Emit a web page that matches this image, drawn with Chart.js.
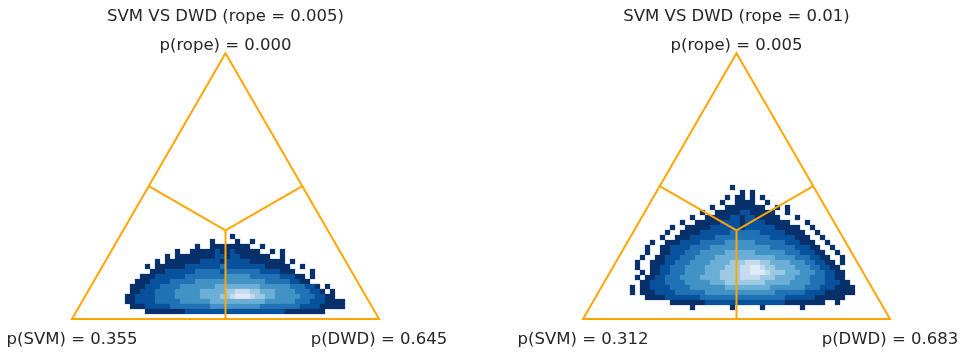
<!DOCTYPE html>
<html lang="en">

<head>
  <meta charset="UTF-8">
  <meta name="viewport" content="width=device-width, initial-scale=1.0">
  <script src="https://cdn.jsdelivr.net/npm/chart.js@4.4.1/dist/chart.umd.min.js"></script>
  <title>SVM vs DWD</title>
  <style>
    body { margin: 0; background: #fff; }
    .row { display: flex; width: 967px; height: 352px; }
    canvas { display: block; }
  </style>
</head>

<body>
  <div class="row">
    <canvas id="left" width="483" height="352"></canvas>
    <canvas id="right" width="484" height="352"></canvas>
  </div>
  <script>
    const titles = ['SVM VS DWD (rope = 0.005)', 'SVM VS DWD (rope = 0.01)']
    const pSvm = [0.355, 0.312]
    const pRope = [0.000, 0.005]
    const pDwd = [0.645, 0.683]

    // hexbin density, one string per row from the top:
    // "firstCell|level*count ..." where level 1 = sparse (dark) ... 8 = densest (light), 0 = empty
    const cloudRope005 = [
      '21|1',
      '17|1 0*4 1 0*2 1',
      '14|1 0*2 1*8 0*2 1',
      '10|1 0*2 1*5 2 1*2 2 1*5 0*2 1 0 1',
      '8|1 0 1*8 2*2 1 2*2 1*6 0*2 1',
      '6|1 0 1*7 2*4 1 2*5 1*7 0 1',
      '4|1 0 1 1*5 2*7 3 2*8 1*5 0*2 1',
      '5|1*3 2*6 3*5 2 3*7 2*4 1*3 0*3 1',
      '3|1*3 2*6 3*8 4*5 3*6 2*3 1*2 0 1',
      '2|1*3 2*4 3*5 4*14 3*5 2*2 1*2',
      '1|1*3 2*3 3*4 4*7 5*9 4*6 3*3 2*2 1 0 1',
      '1|1*2 2*3 3*4 4*5 5*5 6*2 7*3 6*2 5*3 4*4 3*3 2*2 1 0 1',
      '0|1*2 2*4 3*4 4*5 5*4 6*2 7 8*3 7 6*2 5*2 4*5 3*3 2*2 1*2',
      '0|1*2 2*4 3*5 4*6 5*11 4*6 3*3 2*3 1*4',
      '1|1*3 2*5 3*8 4*10 3*8 2*4 1*5',
      '4|1*8 2*20 1*8'
    ]
    const cloudRope01 = [
      '20|1',
      '22|1 0 1',
      '19|1 0 1*2 0 1 0 1',
      '18|1 0*2 1*4 0*2 1',
      '16|1 0*2 1*8 0*2 1 0 1',
      '14|1 0*2 1*5 2*2 1*5 0*2 1',
      '12|1 0*2 1*5 2*2 1 2*2 1*5 0*3 1',
      '10|1 0*2 1*5 2*4 1 2*4 1*5 0*3 1',
      '8|1 0*2 1*5 2*6 1 2*6 1*5 0*2 1',
      '7|1 0*2 1*4 2*6 3*6 2*5 1*4 0*2 1',
      '6|1 0*2 1*3 2*5 3*11 2*5 1*3 0*2 1',
      '4|1 0*2 1*3 2*4 3*5 4*6 3*6 2*3 1*3 0*2 1',
      '3|1 0*2 1*2 2*4 3*4 4*12 3*5 2*3 1*2 0*2 1',
      '3|1 0*2 1*2 2*3 3*3 4*5 5*6 4*6 3*3 2*3 1*2 0*2 1',
      '2|1 0*2 1*2 2*3 3*3 4*4 5*12 4*4 3*3 2*2 1*2 0*2 1',
      '1|1 0*2 1 1*2 2*2 3*3 4*4 5*4 6*3 7*3 6*2 5*4 4*3 3*2 2*2 1*2 0 1',
      '1|1 0*2 1*2 2*2 3*3 4*4 5*4 6*3 7*2 8*2 7 6*2 5*4 4*3 3*2 2*2 1*2',
      '2|1 0 1*2 2*2 3*3 4*4 5*3 6*4 7*2 8*3 7 6*3 5*3 4*3 3*2 2*2 1*2',
      '1|1 0 1*2 2*2 3*3 4*4 5*4 6*4 7*4 6*3 5*4 4*3 3*3 2*2 1*2',
      '2|1*2 2*3 3*4 4*5 5*3 6*8 5*5 4*4 3*3 2*3 1*2',
      '0|1 0 1*2 2*4 3*4 4*7 5*9 4*7 3*3 2*3 1*4',
      '0|1 0 1*3 2*4 3*6 4*14 3*6 2*4 1*6',
      '3|1*4 2*7 3*17 2*6 1*6',
      '8|1*7 2*16 1*8 0*2 1',
      '12|1 0*7 1 0*5 1 0*7 1'
    ]

    const H = Math.sqrt(3) / 2
    const UNIT = 307 // px per simplex unit
    const CELL = 5 / UNIT
    const blues = [null, '#08306b', '#08519c', '#2171b5', '#4292c6', '#6baed6', '#9ecae1', '#c6dbef', '#deebf7']

    function cells(rows, x0, y0) {
      const pts = []
      rows.forEach((row, r) => {
        const [start, runs] = row.split('|')
        let c = +start
        runs.split(' ').forEach(run => {
          const [lvl, n] = run.split('*')
          const count = n ? +n : 1
          for (let k = 0; k < count; k++) {
            if (+lvl > 0) pts.push({ x: x0 + c * CELL, y: y0 - r * CELL, v: +lvl })
            c++
          }
        })
      })
      return pts
    }

    const labelsPlugin = {
      id: 'simplexLabels',
      afterDraw(chart, args, opts) {
        const { ctx, scales: { x, y } } = chart
        const top = y.getPixelForValue(H)
        const base = y.getPixelForValue(0)
        ctx.save()
        ctx.fillStyle = '#262626'
        ctx.font = '16.5px "DejaVu Sans"'
        ctx.textAlign = 'center'
        ctx.textBaseline = 'alphabetic'
        ctx.fillText(opts.title, x.getPixelForValue(0.5), top - 32)
        ctx.fillText('p(rope) = ' + opts.rope.toFixed(3), x.getPixelForValue(0.5), top - 3)
        ctx.fillText('p(SVM) = ' + opts.svm.toFixed(3), x.getPixelForValue(0), base + 24.5)
        ctx.fillText('p(DWD) = ' + opts.dwd.toFixed(3), x.getPixelForValue(1), base + 24.5)
        ctx.restore()
      }
    }

    function lineSet(points) {
      return {
        data: points,
        showLine: true,
        borderColor: '#ffa500',
        borderWidth: 2,
        pointRadius: 0,
        fill: false,
        order: 0
      }
    }

    function drawPanel(id, i, cloud, gridX0, gridY0, leftPad, width) {
      new Chart(document.getElementById(id), {
        type: 'scatter',
        data: {
          datasets: [
            lineSet([{ x: 0, y: 0 }, { x: 1, y: 0 }, { x: 0.5, y: H }, { x: 0, y: 0 }, { x: 1, y: 0 }]),
            lineSet([{ x: 0.25, y: H / 2 }, { x: 0.5, y: H / 3 }, { x: 0.75, y: H / 2 }]),
            lineSet([{ x: 0.5, y: H / 3 }, { x: 0.5, y: 0 }]),
            {
              data: cells(cloud, gridX0, gridY0),
              pointStyle: 'rect',
              pointRadius: 3.7,
              pointBorderWidth: 0,
              pointBackgroundColor: c => c.raw ? blues[c.raw.v] : blues[1],
              order: 1
            }
          ]
        },
        plugins: [labelsPlugin],
        options: {
          responsive: false,
          animation: false,
          devicePixelRatio: 1,
          events: [],
          layout: { autoPadding: false, padding: 0 },
          plugins: {
            legend: { display: false },
            tooltip: { enabled: false },
            simplexLabels: { title: titles[i], rope: pRope[i], svm: pSvm[i], dwd: pDwd[i] }
          },
          scales: {
            x: { type: 'linear', display: false, min: -leftPad / UNIT, max: (width - leftPad) / UNIT },
            y: { type: 'linear', display: false, min: -33 / UNIT, max: 319 / UNIT }
          }
        }
      })
    }

    drawPanel('left', 0, cloudRope005, 55.5 / UNIT, 82.5 / UNIT, 72, 483)
    drawPanel('right', 1, cloudRope01, 49.5 / UNIT, 131.5 / UNIT, 100, 484)
  </script>
</body>

</html>
